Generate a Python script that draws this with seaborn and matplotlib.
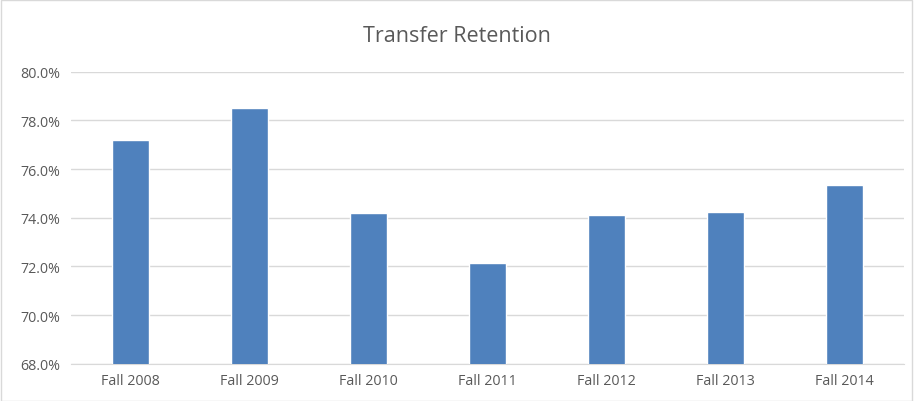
import matplotlib
matplotlib.use("Agg")
import pandas as pd
import matplotlib.pyplot as plt
import seaborn as sns
from matplotlib.ticker import PercentFormatter
from matplotlib.patches import Rectangle

# data
terms = ['Fall 2008', 'Fall 2009', 'Fall 2010', 'Fall 2011', 'Fall 2012', 'Fall 2013', 'Fall 2014']
retention = [77.20, 78.53, 74.18, 72.14, 74.12, 74.23, 75.35]

df = pd.DataFrame({'term': terms, 'retention': retention})

sns.set_style('white')
plt.rcParams['font.family'] = ['Open Sans', 'DejaVu Sans']

fig = plt.figure(figsize=(9.14, 4.02), dpi=100)
ax = fig.add_axes([0.0777, 0.0928, 0.9113, 0.7262])

sns.barplot(data=df, x='term', y='retention', color='#4F81BD', width=0.31,
            saturation=1, ax=ax, zorder=3)

ax.set_ylim(68, 80)
ax.set_yticks([68, 70, 72, 74, 76, 78, 80])
ax.yaxis.set_major_formatter(PercentFormatter(decimals=1))
ax.set_xlim(-0.5, len(terms) - 0.5)
ax.grid(axis='y', color='#D9D9D9', linewidth=1, zorder=0)
ax.set_xlabel('')
ax.set_ylabel('')
for s in ['top', 'right', 'left']:
    ax.spines[s].set_visible(False)
ax.spines['bottom'].set_color('#D9D9D9')
ax.tick_params(axis='both', length=0, colors='#595959', labelsize=10.3)
ax.tick_params(axis='x', pad=7)
ax.tick_params(axis='y', pad=8)

fig.text(0.5, 0.91, 'Transfer Retention', ha='center', va='center',
         fontsize=15.5, color='#595959')

# light chart border
fig.patches.append(Rectangle((0.001, 0.001), 0.997, 0.997, transform=fig.transFigure,
                             fill=False, edgecolor='#D9D9D9', linewidth=1))

plt.savefig('out.png', dpi=100)
plt.close()
